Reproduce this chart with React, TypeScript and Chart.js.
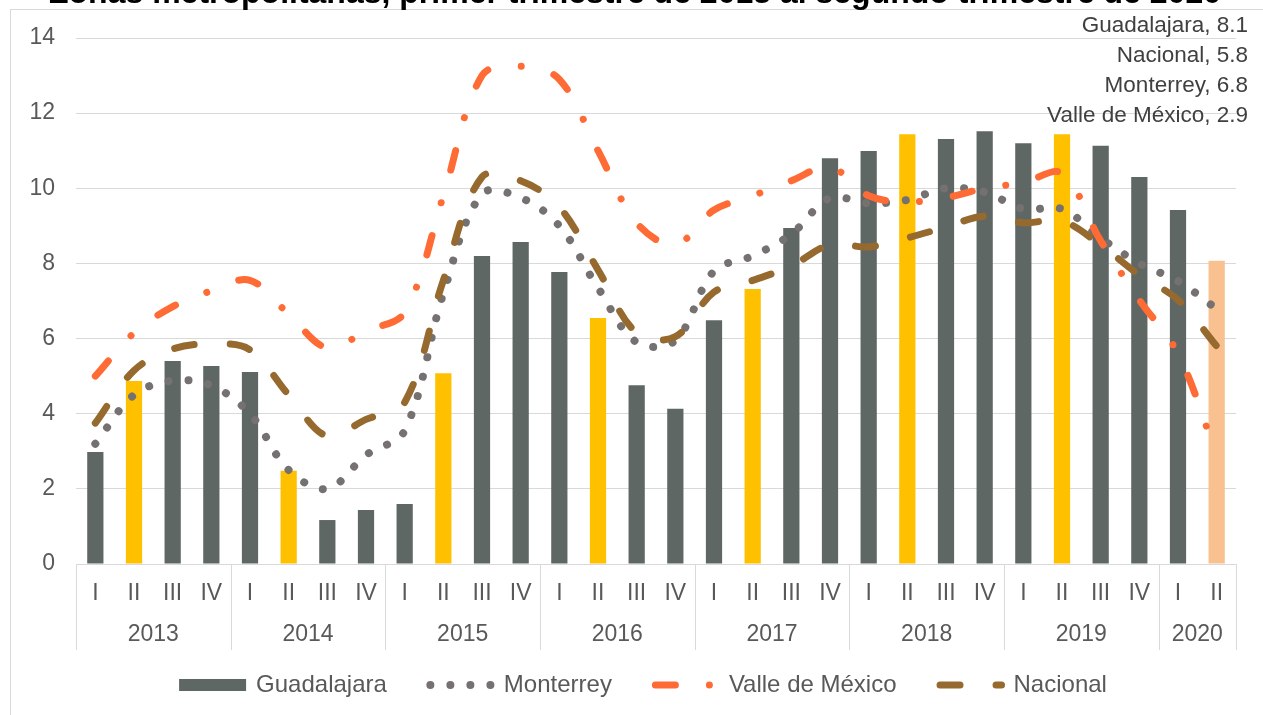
import React, { useEffect, useRef } from 'react';
import { Chart, registerables } from 'chart.js';

Chart.register(...registerables);

const titleText = 'Zonas metropolitanas, primer trimestre de 2013 al segundo trimestre de 2020';

const categoryYears = [
  '2013', '2013', '2013', '2013',
  '2014', '2014', '2014', '2014',
  '2015', '2015', '2015', '2015',
  '2016', '2016', '2016', '2016',
  '2017', '2017', '2017', '2017',
  '2018', '2018', '2018', '2018',
  '2019', '2019', '2019', '2019',
  '2020', '2020',
];
const categoryQuarters = [
  'I', 'II', 'III', 'IV',
  'I', 'II', 'III', 'IV',
  'I', 'II', 'III', 'IV',
  'I', 'II', 'III', 'IV',
  'I', 'II', 'III', 'IV',
  'I', 'II', 'III', 'IV',
  'I', 'II', 'III', 'IV',
  'I', 'II',
];

const guadalajara = [
  2.98, 4.87, 5.40, 5.27,
  5.11, 2.48, 1.17, 1.44,
  1.60, 5.08, 8.20, 8.57,
  7.77, 6.55, 4.76, 4.13,
  6.49, 7.32, 8.94, 10.80,
  10.99, 11.44, 11.31, 11.52,
  11.20, 11.44, 11.13, 10.30,
  9.42, 8.07,
];
const monterrey = [
  3.20, 4.50, 4.88, 4.75,
  4.00, 2.50, 2.00, 2.90,
  3.55, 7.20, 9.85, 9.75,
  9.00, 7.35, 5.90, 5.95,
  7.80, 8.20, 8.78, 9.74,
  9.60, 9.69, 10.00, 9.90,
  9.45, 9.45, 8.68, 8.00,
  7.53, 6.79,
];
const valleDeMexico = [
  5.00, 6.15, 6.85, 7.27,
  7.55, 6.65, 5.75, 6.20,
  6.70, 9.80, 13.00, 13.25,
  12.90, 11.00, 9.08, 8.50,
  9.42, 9.80, 10.20, 10.57,
  9.80, 9.64, 9.75, 10.00,
  10.15, 10.40, 8.60, 7.03,
  5.60, 2.90,
];
const nacional = [
  3.75, 5.15, 5.72, 5.86,
  5.70, 4.50, 3.40, 3.85,
  4.30, 7.55, 10.30, 10.20,
  9.50, 7.83, 6.15, 6.05,
  7.24, 7.55, 7.93, 8.50,
  8.44, 8.68, 8.97, 9.26,
  9.08, 9.13, 8.49, 7.69,
  7.03, 5.80,
];

const yMin = 0;
const yMax = 14;
const yStep = 2;

const FONT = '"Liberation Sans", Arial, Helvetica, sans-serif';
const TEXT = '#595959';
const LABEL_TEXT = '#404040';
const GRID = '#d9d9d9';
const GUAD_COLOR = '#5f6764';
const HIGHLIGHT = '#ffc000';
const LAST_HIGHLIGHT = '#f9c18f';

function barColor(i: number) {
  if (categoryQuarters[i] === 'II') {
    return i === categoryQuarters.length - 1 ? LAST_HIGHLIGHT : HIGHLIGHT;
  }
  return GUAD_COLOR;
}

const yearGroupPlugin = {
  id: 'yearGroups',
  afterDraw(chart: any) {
    const { ctx, chartArea } = chart;
    const xs = chart.scales.x;
    const n = categoryYears.length;
    const half = (xs.getPixelForValue(1) - xs.getPixelForValue(0)) / 2;
    ctx.save();
    ctx.strokeStyle = GRID;
    ctx.lineWidth = 1;
    const bottom = 650;
    const drawSep = (x: number) => {
      const px = Math.round(x) + 0.5;
      ctx.beginPath();
      ctx.moveTo(px, chartArea.bottom);
      ctx.lineTo(px, bottom);
      ctx.stroke();
    };
    drawSep(xs.getPixelForValue(0) - half);
    ctx.fillStyle = TEXT;
    ctx.font = `23px ${FONT}`;
    ctx.textAlign = 'center';
    ctx.textBaseline = 'middle';
    let start = 0;
    for (let i = 1; i <= n; i++) {
      if (i === n || categoryYears[i] !== categoryYears[start]) {
        const x0 = xs.getPixelForValue(start);
        const x1 = xs.getPixelForValue(i - 1);
        ctx.fillText(categoryYears[start], (x0 + x1) / 2, 635);
        drawSep(x1 + half);
        start = i;
      }
    }
    ctx.restore();
  },
};

const labelOrder = [0, 3, 1, 2];
const lastValueLabelsPlugin = {
  id: 'lastValueLabels',
  afterDraw(chart: any) {
    const { ctx } = chart;
    const ds = chart.data.datasets;
    ctx.save();
    ctx.font = `22.5px ${FONT}`;
    ctx.fillStyle = LABEL_TEXT;
    ctx.textAlign = 'right';
    ctx.textBaseline = 'alphabetic';
    labelOrder.forEach((idx, row) => {
      const d = ds[idx];
      const v = d.data[d.data.length - 1] as number;
      ctx.fillText(`${d.label}, ${v.toFixed(1)}`, 1248, 32 + row * 30);
    });
    ctx.restore();
  },
};

const legendPlugin = {
  id: 'customLegend',
  afterDraw(chart: any) {
    const { ctx } = chart;
    const ds = chart.data.datasets;
    const swatch = 67;
    const gap = 10;
    const spacing = 40;
    const y = 685;
    ctx.save();
    ctx.font = `24px ${FONT}`;
    const widths = ds.map((d: any) => swatch + gap + ctx.measureText(d.label).width);
    const total = widths.reduce((a: number, b: number) => a + b, 0) + spacing * (ds.length - 1);
    let x = 643 - total / 2;
    ds.forEach((d: any, i: number) => {
      ctx.save();
      if (d.type === 'bar') {
        ctx.fillStyle = GUAD_COLOR;
        ctx.fillRect(x, y - 6, swatch, 12);
      } else {
        ctx.strokeStyle = d.borderColor;
        ctx.lineWidth = d.borderWidth;
        ctx.lineCap = 'round';
        ctx.setLineDash(d.borderDash);
        ctx.beginPath();
        ctx.moveTo(x + 3.5, y);
        ctx.lineTo(x + swatch - 2, y);
        ctx.stroke();
      }
      ctx.restore();
      ctx.fillStyle = TEXT;
      ctx.textAlign = 'left';
      ctx.textBaseline = 'middle';
      ctx.fillText(d.label, x + swatch + gap, y);
      x += widths[i] + spacing;
    });
    ctx.restore();
  },
};

export default function App() {
  const canvasRef = useRef<HTMLCanvasElement | null>(null);

  useEffect(() => {
    const canvas = canvasRef.current;
    if (!canvas) return;
    const lineCommon = {
      type: 'line' as const,
      pointRadius: 0,
      pointHoverRadius: 0,
      fill: false,
      tension: 0.35,
      borderCapStyle: 'round' as const,
      borderJoinStyle: 'round' as const,
    };
    const chart = new Chart(canvas, {
      type: 'bar',
      data: {
        labels: categoryQuarters,
        datasets: [
          {
            type: 'bar',
            label: 'Guadalajara',
            data: guadalajara,
            backgroundColor: (c: any) => barColor(c.dataIndex),
            barPercentage: 0.42,
            categoryPercentage: 1,
            order: 4,
          },
          {
            ...lineCommon,
            label: 'Monterrey',
            data: monterrey,
            borderColor: '#767171',
            borderWidth: 8,
            borderDash: [0.01, 20],
            order: 3,
          },
          {
            ...lineCommon,
            label: 'Valle de México',
            data: valleDeMexico,
            borderColor: '#ff6b35',
            borderWidth: 7,
            borderDash: [20, 34, 0.01, 34],
            order: 2,
          },
          {
            ...lineCommon,
            label: 'Nacional',
            data: nacional,
            borderColor: '#966a2e',
            borderWidth: 7,
            borderDash: [20, 36],
            order: 1,
          },
        ] as any,
      },
      options: {
        animation: false,
        responsive: false,
        events: [],
        layout: { padding: { top: 38, right: 27, left: 0, bottom: 0 } },
        plugins: {
          legend: { display: false },
          tooltip: { enabled: false },
          title: { display: false },
        },
        scales: {
          x: {
            offset: true,
            grid: { display: false, drawTicks: false },
            border: { display: true, color: GRID, width: 1 },
            ticks: {
              color: TEXT,
              font: { family: FONT, size: 23 },
              padding: 16,
              maxRotation: 0,
              autoSkip: false,
            },
            afterFit: (s: any) => {
              s.height = 151;
            },
          },
          y: {
            min: yMin,
            max: yMax,
            ticks: {
              stepSize: yStep,
              color: TEXT,
              font: { family: FONT, size: 23 },
              padding: 21,
            },
            grid: { color: GRID, lineWidth: 1, drawTicks: false },
            border: { display: false },
            afterFit: (s: any) => {
              s.width = 76;
            },
          },
        },
      } as any,
      plugins: [yearGroupPlugin, lastValueLabelsPlugin, legendPlugin],
    });
    return () => chart.destroy();
  }, []);

  return (
    <div
      style={{
        position: 'fixed',
        left: 0,
        top: 0,
        width: 1263,
        height: 715,
        overflow: 'hidden',
        background: '#ffffff',
      }}
    >
      <div
        style={{
          position: 'absolute',
          left: 10,
          top: 9,
          width: 1400,
          height: 800,
          borderLeft: `1px solid ${GRID}`,
          borderTop: `1px solid ${GRID}`,
        }}
      />
      <canvas
        ref={canvasRef}
        width={1263}
        height={715}
        style={{ position: 'absolute', left: 0, top: 0, display: 'block' }}
      />
      <div
        style={{
          position: 'absolute',
          left: 635,
          top: -24,
          transform: 'translateX(-50%)',
          whiteSpace: 'nowrap',
          font: `bold 32px ${FONT}`,
          lineHeight: '32px',
          color: '#000000',
        }}
      >
        {titleText}
      </div>
    </div>
  );
}
